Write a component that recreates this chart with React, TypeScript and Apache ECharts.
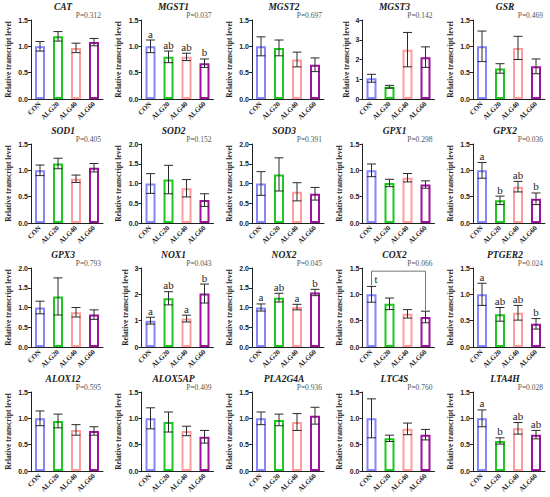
import React, { useEffect, useRef } from 'react';
import * as echarts from 'echarts';

const groups = ['CON', 'ALG20', 'ALG40', 'ALG60'];
const groupColors = ['#8585ff', '#1ec71e', '#ff9c9c', '#9c139c'];

const genes = [
  'CAT', 'MGST1', 'MGST2', 'MGST3', 'GSR',
  'SOD1', 'SOD2', 'SOD3', 'GPX1', 'GPX2',
  'GPX3', 'NOX1', 'NOX2', 'COX2', 'PTGER2',
  'ALOX12', 'ALOX5AP', 'PLA2G4A', 'LTC4S', 'LTA4H'
];
const pValues = [
  'P=0.312', 'P=0.037', 'P=0.697', 'P=0.142', 'P=0.469',
  'P=0.405', 'P=0.152', 'P=0.391', 'P=0.298', 'P=0.036',
  'P=0.793', 'P=0.043', 'P=0.045', 'P=0.066', 'P=0.024',
  'P=0.595', 'P=0.409', 'P=0.936', 'P=0.760', 'P=0.028'
];
const yMax = [1.5, 1.5, 1.5, 4, 1.5, 1.5, 2, 2, 1.5, 1.5, 2, 3, 2, 1.5, 1.5, 1.5, 1.5, 1.5, 1.5, 1.5];
const yStep = [0.5, 0.5, 0.5, 1, 0.5, 0.5, 0.5, 0.5, 0.5, 0.5, 0.5, 1, 0.5, 0.5, 0.5, 0.5, 0.5, 0.5, 0.5, 0.5];

// mean per group (CON, ALG20, ALG40, ALG60)
const means = [
  [1.0, 1.19, 0.97, 1.08],
  [1.0, 0.8, 0.8, 0.68],
  [1.0, 0.97, 0.75, 0.65],
  [1.05, 0.62, 2.5, 2.12],
  [1.0, 0.58, 0.97, 0.62],
  [1.0, 1.13, 0.84, 1.05],
  [1.0, 1.1, 0.88, 0.58],
  [1.0, 1.23, 0.79, 0.74],
  [1.0, 0.76, 0.86, 0.73],
  [1.0, 0.43, 0.69, 0.46],
  [1.0, 1.28, 0.88, 0.82],
  [1.0, 1.85, 1.08, 2.03],
  [1.0, 1.25, 1.01, 1.38],
  [1.0, 0.82, 0.63, 0.57],
  [1.0, 0.62, 0.65, 0.44],
  [1.0, 0.95, 0.78, 0.76],
  [1.0, 0.93, 0.76, 0.65],
  [1.0, 0.97, 0.93, 1.05],
  [1.0, 0.62, 0.8, 0.69],
  [1.0, 0.57, 0.81, 0.69]
];
// error (SEM) per group
const errors = [
  [0.09, 0.09, 0.09, 0.07],
  [0.12, 0.11, 0.07, 0.08],
  [0.18, 0.15, 0.14, 0.13],
  [0.2, 0.07, 0.87, 0.52],
  [0.29, 0.09, 0.22, 0.14],
  [0.1, 0.1, 0.07, 0.08],
  [0.25, 0.36, 0.22, 0.16],
  [0.3, 0.42, 0.23, 0.16],
  [0.12, 0.07, 0.08, 0.07],
  [0.15, 0.08, 0.1, 0.11],
  [0.16, 0.47, 0.12, 0.12],
  [0.13, 0.25, 0.13, 0.36],
  [0.09, 0.11, 0.07, 0.08],
  [0.15, 0.11, 0.08, 0.11],
  [0.21, 0.13, 0.14, 0.1],
  [0.14, 0.13, 0.1, 0.08],
  [0.2, 0.19, 0.09, 0.12],
  [0.12, 0.11, 0.16, 0.16],
  [0.37, 0.06, 0.11, 0.1],
  [0.16, 0.06, 0.11, 0.08]
];
const letters: Record<number, string[]> = {
  1: ['a', 'ab', 'ab', 'b'],
  9: ['a', 'b', 'ab', 'b'],
  11: ['a', 'ab', 'a', 'b'],
  12: ['a', 'ab', 'a', 'b'],
  14: ['a', 'ab', 'ab', 'b'],
  19: ['a', 'b', 'ab', 'ab']
};
// COX2 comparison bracket: [from, to, fromY, toY, topY]
const bracketPanel = 13;
const bracket = [[0, 3, 1.17, 0.7, 1.44]];
const bracketLabel = 't';

const serif = '"Liberation Serif", "Times New Roman", serif';
const axisColor = '#222';

const App = () => {
  const chartRef = useRef<HTMLDivElement>(null);

  useEffect(() => {
    let chart: echarts.ECharts | null = null;
    if (!chartRef.current) return;
    chart = echarts.init(chartRef.current, undefined, { renderer: 'svg' });

    const grids: any[] = [];
    const xAxes: any[] = [];
    const yAxes: any[] = [];
    const series: any[] = [];
    const graphics: any[] = [];

    genes.forEach((gene, p) => {
      const col = p % 5;
      const row = Math.floor(p / 5);
      const left = 31 + col * 110.5;
      const top = 20 + row * 124;
      grids.push({ left, top, width: 72, height: 79 });
      xAxes.push({
        type: 'category',
        gridIndex: p,
        data: groups,
        axisLine: { lineStyle: { color: axisColor, width: 1 } },
        axisTick: { alignWithLabel: true, length: 3, lineStyle: { color: axisColor } },
        axisLabel: {
          rotate: 45,
          margin: 4,
          fontSize: 7,
          fontWeight: 'bold',
          fontFamily: serif,
          color: '#222',
          interval: 0
        }
      });
      yAxes.push({
        type: 'value',
        gridIndex: p,
        min: 0,
        max: yMax[p],
        interval: yStep[p],
        name: 'Relative transcript level',
        nameLocation: 'middle',
        nameGap: yStep[p] === 1 ? 12 : 19,
        nameTextStyle: { fontSize: 7.5, fontWeight: 'bold', fontFamily: serif, color: '#222' },
        axisLine: { show: true, lineStyle: { color: axisColor, width: 1 } },
        axisTick: { show: true, length: 3, lineStyle: { color: axisColor } },
        splitLine: { show: false },
        axisLabel: {
          margin: 3,
          fontSize: 7,
          fontWeight: 'bold',
          fontFamily: 'Liberation Sans, Arial, sans-serif',
          color: '#222',
          formatter: (v: number) => (yStep[p] === 1 ? String(v) : v.toFixed(1))
        }
      });
      series.push({
        type: 'bar',
        xAxisIndex: p,
        yAxisIndex: p,
        barWidth: 10,
        data: means[p].map((v, i) => ({
          value: v,
          itemStyle: { color: '#fff', borderColor: groupColors[i], borderWidth: 2 }
        }))
      });
      const lts = letters[p];
      series.push({
        type: 'custom',
        xAxisIndex: p,
        yAxisIndex: p,
        z: 5,
        data: means[p].map((v, i) => [i, v - errors[p][i], v + errors[p][i]]),
        renderItem: (params: any, api: any) => {
          const x = api.value(0);
          const lo = api.coord([x, api.value(1)]);
          const hi = api.coord([x, api.value(2)]);
          const cap = 4.5;
          const style = { stroke: '#2a2a2a', lineWidth: 1 };
          const children: any[] = [
            { type: 'line', shape: { x1: hi[0], y1: lo[1], x2: hi[0], y2: hi[1] }, style },
            { type: 'line', shape: { x1: hi[0] - cap, y1: hi[1], x2: hi[0] + cap, y2: hi[1] }, style },
            { type: 'line', shape: { x1: lo[0] - cap, y1: lo[1], x2: lo[0] + cap, y2: lo[1] }, style }
          ];
          if (lts) {
            children.push({
              type: 'text',
              x: hi[0],
              y: hi[1] - 1,
              style: {
                text: lts[params.dataIndex],
                font: `11px ${serif}`,
                fill: '#222',
                align: 'center',
                verticalAlign: 'bottom'
              }
            });
          }
          return { type: 'group', children };
        }
      });
      graphics.push({
        type: 'text',
        x: left + 32,
        y: top - 13,
        style: {
          text: gene,
          font: `italic bold 9.5px ${serif}`,
          fill: '#1a1a1a',
          align: 'center',
          verticalAlign: 'middle'
        }
      });
      graphics.push({
        type: 'text',
        x: left + 70,
        y: top - 5,
        style: {
          text: pValues[p],
          font: `7.5px ${serif}`,
          fill: '#555',
          align: 'right',
          verticalAlign: 'middle'
        }
      });
    });

    series.push({
      type: 'custom',
      xAxisIndex: bracketPanel,
      yAxisIndex: bracketPanel,
      z: 6,
      data: bracket,
      renderItem: (params: any, api: any) => {
        const a = api.coord([api.value(0), api.value(2)]);
        const b = api.coord([api.value(1), api.value(3)]);
        const t = api.coord([api.value(0), api.value(4)])[1];
        return {
          type: 'group',
          children: [
            {
              type: 'polyline',
              shape: { points: [[a[0], a[1]], [a[0], t], [b[0], t], [b[0], b[1]]] },
              style: { stroke: '#777', lineWidth: 1, fill: 'none' }
            },
            {
              type: 'text',
              x: a[0] + 3,
              y: t + 2,
              style: { text: bracketLabel, font: `11px ${serif}`, fill: '#222', align: 'left', verticalAlign: 'top' }
            }
          ]
        };
      }
    });

    chart.setOption({
      animation: false,
      backgroundColor: '#fff',
      grid: grids,
      xAxis: xAxes,
      yAxis: yAxes,
      series,
      graphic: graphics
    });

    return () => {
      chart?.dispose();
    };
  }, []);

  return (
    <div
      ref={chartRef}
      style={{ position: 'absolute', left: 0, top: 0, width: '550px', height: '497px' }}
    ></div>
  );
};

export default App;
